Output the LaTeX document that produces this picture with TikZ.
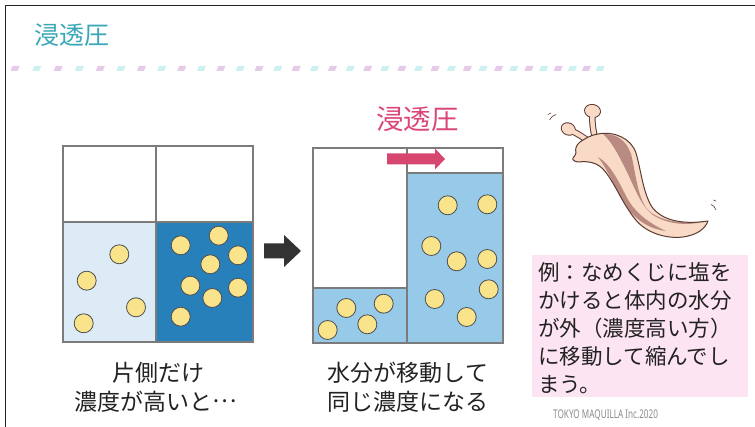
\documentclass[tikz,border=0pt]{standalone}
\usepackage{fontspec}
\usepackage{graphicx}
\setmainfont{Noto Sans CJK JP}
\newfontfamily\latinfont{Noto Sans}

\definecolor{frameblack}{HTML}{222222}
\definecolor{titleteal}{HTML}{3AA7B9}
\definecolor{dashpink}{HTML}{E6CAE9}
\definecolor{dashcyan}{HTML}{CDF0F1}
\definecolor{beakergray}{HTML}{7B7B7B}
\definecolor{lightwater}{HTML}{DDEBF7}
\definecolor{darkwater}{HTML}{2880BB}
\definecolor{midwater}{HTML}{97C9E9}
\definecolor{soluteyellow}{HTML}{F9E48B}
\definecolor{soluteedge}{HTML}{4D4D4D}
\definecolor{arrowdark}{HTML}{333333}
\definecolor{osmopink}{HTML}{D6466F}
\definecolor{labelpink}{HTML}{D9477A}
\definecolor{notepink}{HTML}{FCE4F2}
\definecolor{slugskin}{HTML}{F8DAC6}
\definecolor{slugline}{HTML}{5B3B32}
\definecolor{slugstripe}{HTML}{B98A80}
\definecolor{creditgray}{HTML}{8A8A8A}
\definecolor{bodytext}{HTML}{222222}

\begin{document}
\begin{tikzpicture}[x=1pt,y=-1pt,
  beaker/.style={draw=beakergray,line width=1.1pt},
  solute/.style={circle,draw=soluteedge,fill=soluteyellow,line width=0.8pt,minimum size=19pt,inner sep=0pt},
  caption/.style={text=bodytext,font=\fontsize{23}{27}\selectfont,inner sep=0pt,anchor=base},
  noteline/.style={text=bodytext,font=\fontsize{21.5}{28}\selectfont,inner sep=0pt,anchor=base west},
  slugedge/.style={draw=slugline,line width=1pt,line join=round}]
\useasboundingbox (0,0) rectangle (755,427);

% frame on the left and top edges
\draw[frameblack,line width=1.5pt] (5.5,427) -- (5.5,5.5) -- (755,5.5);

% heading
\node[anchor=base west,inner sep=0pt,text=titleteal,font=\fontsize{25}{30}\selectfont] (title) at (34,45) {浸透圧};

% two-tone dashed rule
\foreach \i in {0,...,33} {
  \pgfmathsetmacro\cx{15+21.7*\i-0.124*\i*(\i-1)}
  \ifodd\i\def\dc{dashcyan}\else\def\dc{dashpink}\fi
  \fill[\dc] (\cx-4.5,71) -- (\cx+2.5,71) -- (\cx+4.5,66) -- (\cx-2.5,66) -- cycle;
}

% ---- first pair of compartments: unequal concentration
\fill[lightwater] (63,222) rectangle (156,342);
\fill[darkwater] (156,222) rectangle (253,342);
\draw[beaker] (63,146) rectangle (253,342);
\draw[beaker] (156,146) -- (156,342);
\draw[beaker] (63,222) -- (253,222);
\foreach \x/\y [count=\i] in {119.3/254.3, 86.7/280.7, 136/307.3, 83.7/323.3}
  \node[solute] (la\i) at (\x,\y) {};
\foreach \x/\y [count=\i] in {180.7/245.3, 218.7/235.7, 238/255.3, 210.3/264.3,
                              190.3/285.7, 238/287.7, 212.3/298, 180.7/316.7}
  \node[solute] (ra\i) at (\x,\y) {};

% step arrow
\fill[arrowdark] (264,243.5) -- (284,243.5) -- (284,235) -- (301,251) -- (284,267)
  -- (284,258.5) -- (264,258.5) -- cycle;

% ---- second pair of compartments: water has moved
\fill[midwater] (313,288) rectangle (407,343);
\fill[midwater] (407,173) rectangle (503,343);
\draw[beaker] (313,148) rectangle (503,343);
\draw[beaker] (407,148) -- (407,343);
\draw[beaker] (313,288) -- (407,288);
\draw[beaker] (407,173) -- (503,173);
\foreach \x/\y [count=\i] in {327.7/330, 346.3/308, 383.7/303.7, 367.3/324.3}
  \node[solute] (lb\i) at (\x,\y) {};
\foreach \x/\y [count=\i] in {447.7/205.3, 487.3/204.3, 431.3/246, 456.7/261.3,
                              487.3/259, 488.7/289.3, 434.7/299, 466.7/317}
  \node[solute] (rb\i) at (\x,\y) {};

% osmotic pressure label and arrow
\node[anchor=base,inner sep=0pt,text=labelpink,font=\fontsize{27.5}{32}\selectfont] (osmo) at (417.5,130) {浸透圧};
\fill[osmopink] (387,153.5) -- (435,153.5) -- (435,148.5) -- (445,159) -- (435,169.5)
  -- (435,164.5) -- (387,164.5) -- cycle;

% captions under the compartments
\node[caption] (capa1) at (158,382) {片側だけ};
\node[caption] (capa2) at (156,410) {濃度が高いと\raisebox{0.33em}{…}};
\node[caption] (capb1) at (408,382) {水分が移動して};
\node[caption] (capb2) at (408,410) {同じ濃度になる};

% ---- slug
\def\slugbody{(598,134) .. controls (614,131) and (631,138) .. (636,153)
  .. controls (641,170) and (643,193) .. (652,207)
  .. controls (664,223) and (688,224) .. (708,221)
  .. controls (705,229) and (697,235) .. (683,237)
  .. controls (666,239) and (646,233) .. (635,219)
  .. controls (622,203) and (614,181) .. (603,169)
  .. controls (596,162) and (587,161) .. (579,162)
  .. controls (575,162) and (572,160) .. (573,158)
  .. controls (574,156) and (576,155) .. (576,153)
  .. controls (575,149) and (576,145) .. (580,142)
  .. controls (586,138) and (591,135) .. (598,134) -- cycle}
% eye stalks: dark outline pass, then skin pass
\draw[slugline,line width=6.5pt,line cap=round] (595,138) .. controls (593,130) and (592,123) .. (592.5,114);
\draw[slugline,line width=6.5pt,line cap=round] (588,141) .. controls (583,137) and (578,134) .. (572,131);
\fill[slugline,rotate around={-10:(592.5,111)}] (592.5,111) ellipse [x radius=8.5,y radius=7];
\fill[slugline,rotate around={-25:(568.3,129)}] (568.3,129) ellipse [x radius=7.7,y radius=6.5];
\draw[slugskin,line width=4.5pt,line cap=round] (595,138) .. controls (593,130) and (592,123) .. (592.5,114);
\draw[slugskin,line width=4.5pt,line cap=round] (588,141) .. controls (583,137) and (578,134) .. (572,131);
\fill[slugskin,rotate around={-10:(592.5,111)}] (592.5,111) ellipse [x radius=7.5,y radius=6];
\fill[slugskin,rotate around={-25:(568.3,129)}] (568.3,129) ellipse [x radius=6.7,y radius=5.5];
% body
\fill[slugskin] \slugbody;
\begin{scope}
  \clip \slugbody;
  % broad band along the back
  \fill[slugstripe] (603,134) .. controls (617,134) and (626,140) .. (631,154)
    .. controls (636,174) and (637,195) .. (647,209)
    .. controls (660,223) and (688,224) .. (706,221)
    .. controls (690,226) and (668,225) .. (653,215)
    .. controls (640,205) and (634,186) .. (626,170)
    .. controls (618,154) and (612,142) .. (603,134) -- cycle;
  % narrow band along the belly
  \fill[slugstripe] (598,157) .. controls (610,164) and (618,180) .. (626,196)
    .. controls (633,210) and (646,222) .. (666,231)
    .. controls (648,229) and (633,218) .. (623,202)
    .. controls (615,188) and (608,170) .. (598,157) -- cycle;
\end{scope}
\draw[slugedge] \slugbody;
% motion ticks
\draw[slugline,line width=0.6pt,line cap=round] (548,114.5) -- (551,113);
\draw[slugline,line width=0.6pt,line cap=round] (549.5,120) .. controls (551,117) and (553,115.5) .. (556,114.5);
\draw[slugline,line width=0.6pt,line cap=round] (713.5,200) -- (716,201);
\draw[slugline,line width=0.6pt,line cap=round] (711,204.5) .. controls (713,205) and (715,207) .. (716,210);

% ---- example note
\fill[notepink] (532,255) rectangle (748,397);
\node[noteline] (n1) at (538,281) {例：なめくじに塩を};
\node[noteline] (n2) at (538,309) {かけると体内の水分};
\node[noteline] (n3) at (538,337) {が外（濃度高い方）};
\node[noteline] (n4) at (538,365) {に移動して縮んでし};
\node[noteline] (n5) at (538,393) {まう。};

% credit
\node[anchor=base west,inner sep=0pt,text=creditgray,font=\latinfont\fontsize{12}{14}\selectfont] (credit) at (553,418)
  {\scalebox{0.68}[1]{TOKYO MAQUILLA Inc.2020}};
\end{tikzpicture}
\end{document}
